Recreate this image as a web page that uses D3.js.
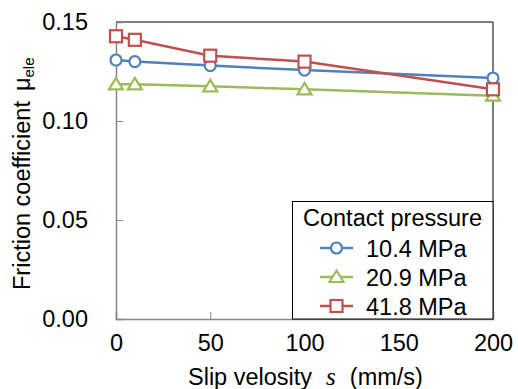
<!DOCTYPE html>
<html><head><meta charset="utf-8">
<script src="https://cdn.jsdelivr.net/npm/d3@7"></script>
<style>body{margin:0;background:#fff}svg{display:block}text{font-family:"Liberation Sans",Arial,sans-serif;fill:#000}</style>
</head><body><svg id="c" width="518" height="389"></svg>
<script>
const velocities = [0, 10, 50, 100, 200];
const mu104 = [0.1308, 0.1300, 0.1280, 0.1257, 0.1217];
const mu209 = [0.1185, 0.1185, 0.1175, 0.1160, 0.1128];
const mu418 = [0.1428, 0.1410, 0.1330, 0.1300, 0.1160];
const seriesNames = ["10.4 MPa", "20.9 MPa", "41.8 MPa"];
const xTicks = [0, 50, 100, 150, 200];
const yTicks = [0.00, 0.05, 0.10, 0.15];

const colors = ["#4F81BD", "#9BBB59", "#C0504D"];
const shapes = ["circle", "triangle", "square"];
const series = [mu104, mu209, mu418];
const FS = 23.5;

const svg = d3.select("#c");
const L = 116, R = 493, T = 22, B = 319;
const x = d3.scaleLinear().domain([0, 200]).range([L, R]);
const y = d3.scaleLinear().domain([0, 0.15]).range([B, T]);

// frame top & right
svg.append("path").attr("d", `M${L},${T}H${R}V${B}`).attr("fill","none").attr("stroke","#000").attr("stroke-width",1);

// axes
const xAxis = d3.axisBottom(x).tickValues(xTicks).tickSize(-7).tickPadding(15).tickFormat(d3.format("d"));
const gx = svg.append("g").attr("transform",`translate(0,${B})`).call(xAxis);
gx.select(".domain").attr("stroke","#868686").attr("stroke-width",1.5);
gx.selectAll(".tick line").attr("stroke","#868686").attr("stroke-width",1).filter(d=>d===0||d===200).remove();
gx.selectAll(".tick text").attr("font-size",FS).attr("font-family","Liberation Sans, Arial, sans-serif").attr("fill","#000");

const yAxis = d3.axisLeft(y).tickValues(yTicks).tickSize(-7).tickPadding(28).tickFormat(d3.format(".2f"));
const gy = svg.append("g").attr("transform",`translate(${L},0)`).call(yAxis);
gy.select(".domain").attr("stroke","#868686").attr("stroke-width",1.5);
gy.selectAll(".tick line").attr("stroke","#868686").attr("stroke-width",1).filter(d=>d===0||d===0.15).remove();
gy.selectAll(".tick text").attr("font-size",FS).attr("font-family","Liberation Sans, Arial, sans-serif").attr("fill","#000");

function marker(g, shape, color, cx, cy){
  if(shape==="circle") g.append("circle").attr("cx",cx).attr("cy",cy).attr("r",5.5).attr("fill","#fff").attr("stroke",color).attr("stroke-width",2.2);
  else if(shape==="square") g.append("rect").attr("x",cx-6).attr("y",cy-6).attr("width",12).attr("height",12).attr("fill","#fff").attr("stroke",color).attr("stroke-width",2.2);
  else g.append("path").attr("d",`M${cx},${cy-6.5}L${cx+7},${cy+5}L${cx-7},${cy+5}Z`).attr("fill","#fff").attr("stroke",color).attr("stroke-width",2.2);
}

const line = d3.line().x((d,i)=>x(velocities[i])).y(d=>y(d));
series.forEach((s,k)=>{
  const g = svg.append("g");
  g.append("path").attr("d",line(s)).attr("fill","none").attr("stroke",colors[k]).attr("stroke-width",2.5);
  s.forEach((v,i)=>marker(g, shapes[k], colors[k], x(velocities[i]), y(v)));
});

// legend
const lg = svg.append("g");
lg.append("rect").attr("x",292.5).attr("y",201.5).attr("width",R-292.5).attr("height",B-201.5).attr("fill","#fff").attr("stroke","#000").attr("stroke-width",1);
lg.append("text").attr("x",303).attr("y",226).attr("font-size",FS).text("Contact pressure");
const ly = [248, 277, 306];
seriesNames.forEach((n,k)=>{
  lg.append("line").attr("x1",320).attr("x2",353).attr("y1",ly[k]).attr("y2",ly[k]).attr("stroke",colors[k]).attr("stroke-width",2.5);
  marker(lg, shapes[k], colors[k], 336.5, ly[k]);
  lg.append("text").attr("x",366).attr("y",ly[k]+8.5).attr("font-size",FS).text(n);
});

// x title
const xt = svg.append("text").attr("x",188).attr("y",385).attr("font-size",FS);
xt.append("tspan").text("Slip velosity");
xt.append("tspan").attr("dx",14).attr("font-family","Liberation Serif, Times New Roman, serif").attr("font-style","italic").attr("font-size",25).text("s");
xt.append("tspan").attr("dx",14).text("(mm/s)");

// y title
const yt = svg.append("text").attr("transform","translate(30,290) rotate(-90)").attr("font-size",FS);
yt.append("tspan").text("Friction coefficient");
yt.append("tspan").attr("dx",10).text("μ");
yt.append("tspan").attr("font-size",15).attr("dy",4).text("ele");
</script></body></html>
